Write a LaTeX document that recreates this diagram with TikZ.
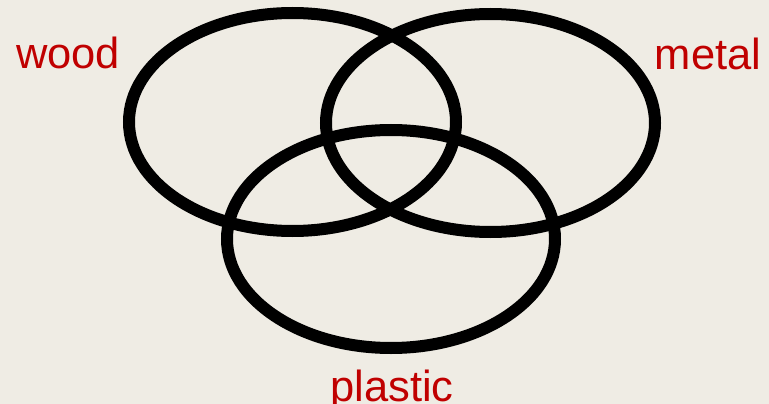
\documentclass[tikz,border=0pt]{standalone}
\usepackage{fontspec}
\setmainfont{Liberation Sans}
\usepackage{xcolor}
\definecolor{paper}{HTML}{EFECE4}
\definecolor{labelred}{HTML}{C00000}

\begin{document}
\begin{tikzpicture}[
    x=1pt, y=-1pt,
    ring/.style={draw=black, line width=12pt},
    setlabel/.style={text=labelred, font=\fontsize{43.5}{43.5}\selectfont, anchor=base, inner sep=0pt}
]
\fill[paper] (0,0) rectangle (769,404);
\useasboundingbox (0,0) rectangle (769,404);

% the three sets
\draw[ring] (292.5,122) ellipse [x radius=163.5, y radius=109];
\draw[ring] (490.5,123) ellipse [x radius=164.5, y radius=109];
\draw[ring] (391,239) ellipse [x radius=164, y radius=109];

\node[setlabel] (wood) at (68,69) {wood};
\node[setlabel] (metal) at (708,70) {metal};
\node[setlabel] (plastic) at (392,401) {plastic};
\end{tikzpicture}
\end{document}
